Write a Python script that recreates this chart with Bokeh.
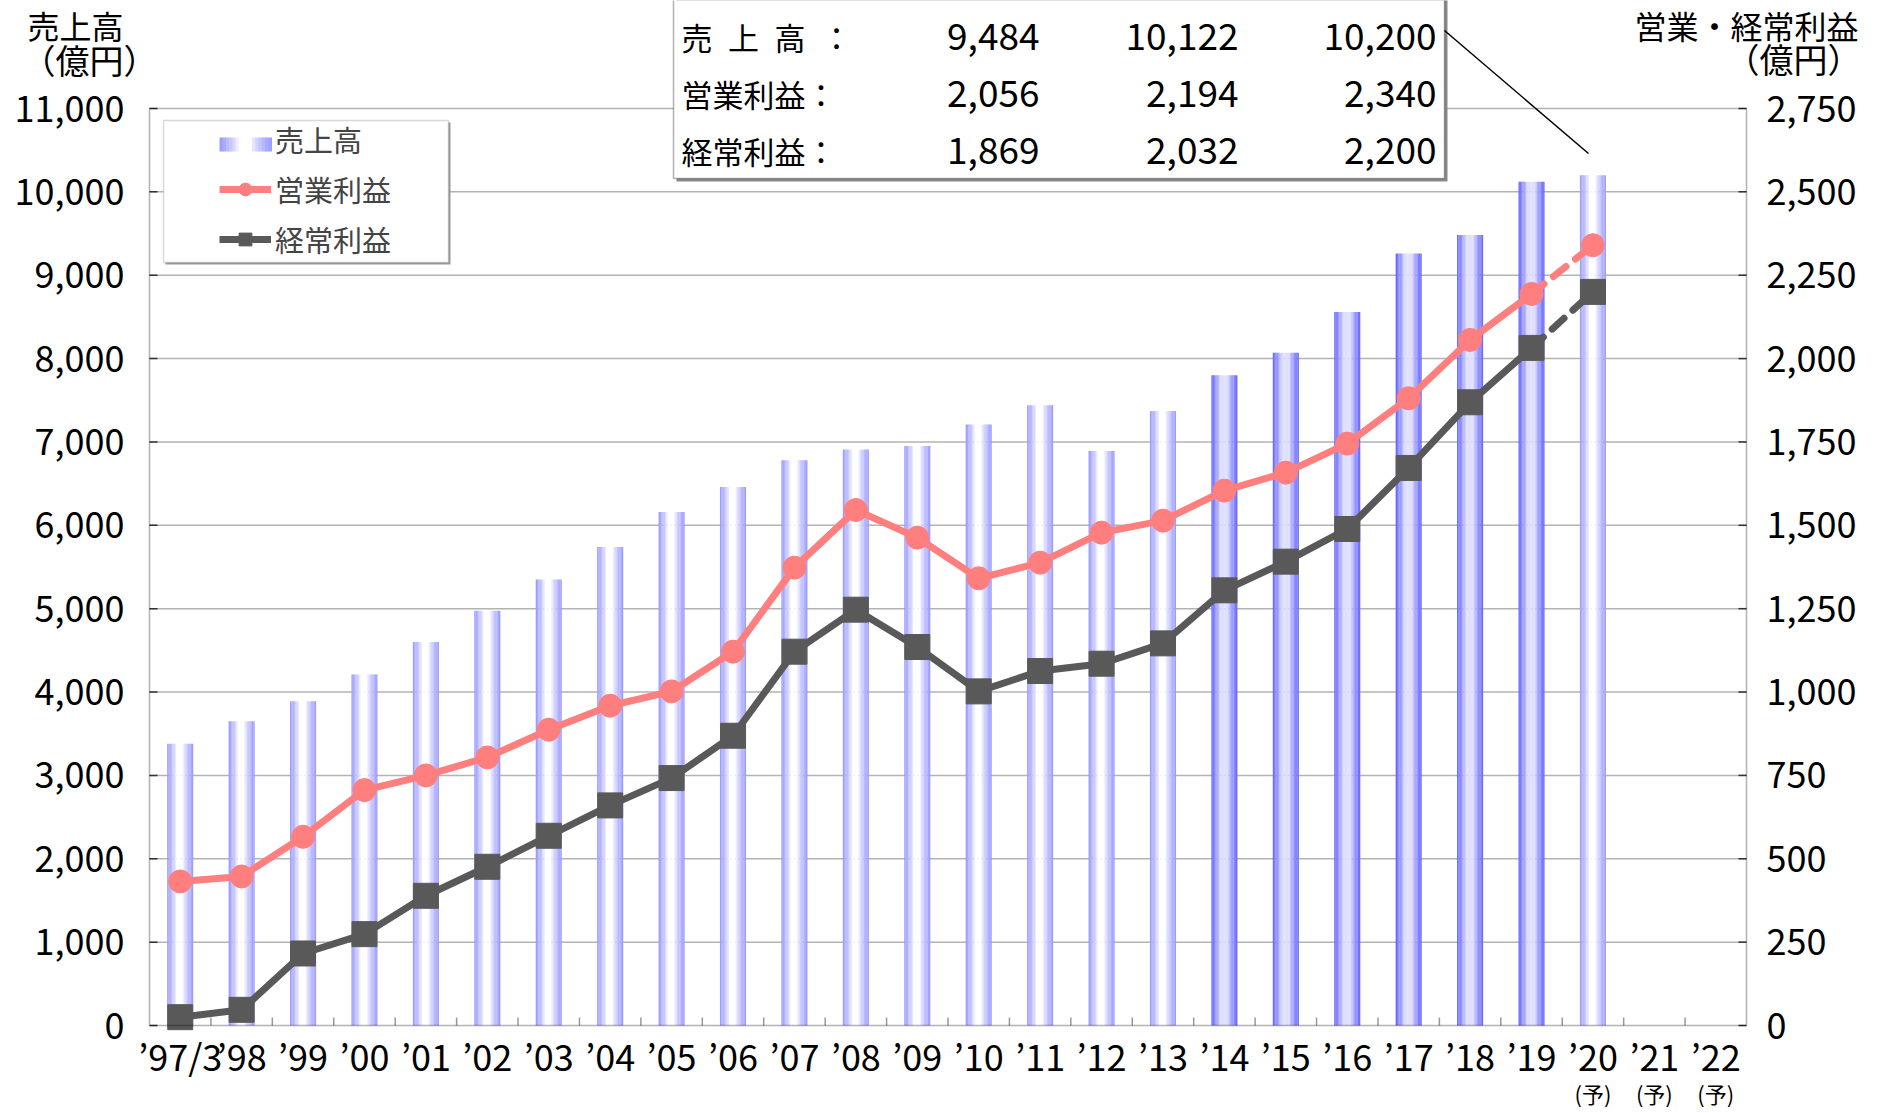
import numpy as np
from bokeh.plotting import figure
from bokeh.models import (ColumnDataSource, Range1d, Label, BoxAnnotation, Arrow, Legend, LegendItem)
from bokeh.core.properties import value
from bokeh.embed import file_html
from bokeh.resources import INLINE

# ---------------- data ----------------
categories = ["’97/3", "’98", "’99", "’00", "’01", "’02", "’03", "’04", "’05", "’06", "’07", "’08", "’09",
              "’10", "’11", "’12", "’13", "’14", "’15", "’16", "’17", "’18", "’19", "’20", "’21", "’22"]
forecast_labels = ["’20", "’21", "’22"]
dark_years = ["’14", "’15", "’16", "’17", "’18", "’19"]
sales = [3380, 3650, 3890, 4210, 4600, 4975, 5350, 5740, 6160, 6460, 6780, 6910, 6950,
         7210, 7440, 6890, 7370, 7800, 8070, 8560, 9260, 9484, 10122, 10200]
op_profit = [432, 447, 566, 706, 750, 804, 887, 959, 1002, 1121, 1373, 1546, 1463,
             1341, 1388, 1478, 1514, 1604, 1658, 1745, 1881, 2056, 2194, 2340]
ord_profit = [25, 47, 216, 274, 389, 476, 569, 660, 742, 869, 1121, 1247, 1135,
              1002, 1063, 1085, 1146, 1305, 1391, 1489, 1672, 1869, 2032, 2200]
sales_ticks = list(range(0, 11001, 1000))
profit_ticks = list(range(0, 2751, 250))
table_rows = ["売\u2002上\u2002高\u2002：", "営業利益：", "経常利益："]
series_names = ["売上高", "営業利益", "経常利益"]
left_title = ["売上高", "（億円）"]
right_title = ["営業・経常利益", "（億円）"]
forecast_mark = "(予)"

FONT = "Noto Sans CJK JP"
PINK = "#ff7f7f"
DARK = "#595959"

# ---------------- layout (canvas pixels) ----------------
CW, CH = 1868, 1109
FL, FR, FT, FB = 149, 1746, 108, 1025          # plot box inside the canvas
NCAT = len(categories)
YMAX = sales_ticks[-1]
PMAX = profit_ticks[-1]
xpp = (FR - FL) / NCAT
ypp = (FB - FT) / YMAX
x0, x1 = -0.5, NCAT - 0.5
x_range = Range1d(x0 - FL / xpp, x1 + (CW - FR) / xpp)
y_range = Range1d(-(CH - FB) / ypp, YMAX + FT / ypp)
k = YMAX / PMAX

p = figure(width=CW, height=CH, x_range=x_range, y_range=y_range, output_backend="svg",
           toolbar_location=None, x_axis_location=None, y_axis_location=None,
           min_border=0, min_border_left=0, min_border_right=0, min_border_top=0, min_border_bottom=0)
p.outline_line_color = None
p.xgrid.visible = False
p.ygrid.visible = False
p.background_fill_color = "white"
p.border_fill_color = "white"
p.extra_y_ranges = {"profit": Range1d(y_range.start / k, y_range.end / k)}

TICK = 8
# grid lines
grid_src = ColumnDataSource(dict(y=sales_ticks[1:-1]))
p.segment(x0=x0, x1=x1, y0="y", y1="y", source=grid_src, line_color="#b3b3b3", line_width=1.5)


def gradient(t, dark):
    edge = np.array([102, 102, 255]) if dark else np.array([153, 153, 255])
    center = np.array([222, 222, 255]) if dark else np.array([255, 255, 255])
    a, b = (0.34, 0.64) if dark else (0.37, 0.60)
    if t < a:
        f = (a - t) / a
    elif t > b:
        f = (t - b) / (1 - b)
    else:
        f = 0.0
    c = center + (edge - center) * f ** 0.7
    return "#%02x%02x%02x" % tuple(int(round(v)) for v in c)


# bars with horizontal gradient (drawn as narrow stripes)
N = 20
W = 0.423
xs, tops, cols = [], [], []
for i, s in enumerate(sales):
    dark = categories[i] in dark_years
    for kk in range(N):
        t = (kk + 0.5) / N
        xs.append(i - W / 2 + (kk + 0.5) * W / N)
        tops.append(s)
        cols.append(gradient(t, dark))
bar_src = ColumnDataSource(dict(x=xs, top=tops, color=cols))
bars = p.vbar(x="x", top="top", bottom=0, width=W / N * 1.1, source=bar_src,
              fill_color="color", line_color=None)
# invisible proxy so that the legend key can carry the gradient drawn below
bar_key = p.vbar(x=[], top=[], width=W, fill_alpha=0, line_alpha=0)

# lines
idx = list(range(len(op_profit)))
solid_src = ColumnDataSource(dict(x=idx[:-1], op=op_profit[:-1], od=ord_profit[:-1]))
dash_src = ColumnDataSource(dict(x=idx[-2:], op=op_profit[-2:], od=ord_profit[-2:]))
pts_src = ColumnDataSource(dict(x=idx, op=op_profit, od=ord_profit))

ord_line = p.line("x", "od", source=solid_src, y_range_name="profit", line_color=DARK, line_width=7)
p.line("x", "od", source=dash_src, y_range_name="profit", line_color=DARK, line_width=7,
       line_dash="16 12", line_cap="round")
ord_pts = p.scatter("x", "od", source=pts_src, y_range_name="profit", marker="square", size=25,
                    fill_color=DARK, line_color=DARK)
op_line = p.line("x", "op", source=solid_src, y_range_name="profit", line_color=PINK, line_width=7)
p.line("x", "op", source=dash_src, y_range_name="profit", line_color=PINK, line_width=7,
       line_dash="16 12", line_cap="round")
op_pts = p.scatter("x", "op", source=pts_src, y_range_name="profit", marker="circle", size=23,
                   fill_color=PINK, line_color=PINK)

# ---------------- axes (ticks + labels through the data scales) ----------------
ltick = ColumnDataSource(dict(y=sales_ticks, lbl=[f"{v:,}" for v in sales_ticks]))
p.segment(x0=x0, x1=x0 + TICK / xpp, y0="y", y1="y", source=ltick, line_color="#333333", line_width=1.5)
p.text(x=x0, y="y", text="lbl", source=ltick, x_offset=-25, text_align="right",
       text_baseline="middle", text_font=value(FONT), text_font_size=value("36px"), text_color="black")

rtick = ColumnDataSource(dict(y=profit_ticks, lbl=[f"{v:,}" for v in profit_ticks]))
p.segment(x0=x1 - TICK / xpp, x1=x1, y0="y", y1="y", source=rtick, y_range_name="profit",
          line_color="#333333", line_width=1.5)
p.text(x=x1, y="y", text="lbl", source=rtick, y_range_name="profit", x_offset=20, text_align="left",
       text_baseline="middle", text_font=value(FONT), text_font_size=value("36px"), text_color="black")

btick = ColumnDataSource(dict(x=[i + 0.5 for i in range(NCAT - 1)]))
p.segment(x0="x", x1="x", y0=0, y1=TICK / ypp, source=btick, line_color="#999999", line_width=1.5)
xlab = ColumnDataSource(dict(x=list(range(NCAT)), lbl=categories))
p.text(x="x", y=0, text="lbl", source=xlab, y_offset=29, text_align="center", text_baseline="middle",
       text_font=value(FONT), text_font_size=value("36px"), text_color="black")
flab = ColumnDataSource(dict(x=[categories.index(c) for c in forecast_labels],
                             lbl=[forecast_mark] * len(forecast_labels)))
p.text(x="x", y=0, text="lbl", source=flab, y_offset=67, text_align="center", text_baseline="middle",
       text_font=value(FONT), text_font_size=value("22px"), text_color="black")

# plot box
p.add_layout(BoxAnnotation(left=x0, right=x1, bottom=0, top=YMAX, fill_alpha=0,
                           line_color="black", line_width=1.5))


# texts placed in canvas pixels (y measured from the top)
def lab(x, y, text, size, align="center"):
    p.add_layout(Label(x=x, y=CH - y, x_units="screen", y_units="screen", text=text,
                       text_font=FONT, text_font_size=size, text_align=align,
                       text_baseline="middle", text_color="black"))


lab(75, 24, left_title[0], "32px")
lab(89, 59, left_title[1], "34px")
lab(1746, 24, right_title[0], "32px")
lab(1793, 58, right_title[1], "34px")


def sbox(l, r, t, b, **kw):
    p.add_layout(BoxAnnotation(left=l, right=r, top=CH - t, bottom=CH - b,
                               left_units="screen", right_units="screen", top_units="screen",
                               bottom_units="screen", **kw))


# ---------------- legend ----------------
sbox(165, 450, 122, 264, fill_color="#9a9a9a", fill_alpha=1, line_color=None)
sbox(163, 448, 120, 262, fill_color="white", fill_alpha=1, line_color="#808080", line_width=1.5)
# gradient key for the sales entry
NK = 16
for kk in range(NK):
    t = (kk + 0.5) / NK
    sbox(219 + kk * 52 / NK, 219 + (kk + 1) * 52 / NK + 0.5, 137, 151,
         fill_color=gradient(t, False), fill_alpha=1, line_color=None)
legend = Legend(items=[LegendItem(label=series_names[0], renderers=[bar_key]),
                       LegendItem(label=series_names[1], renderers=[op_line, op_pts]),
                       LegendItem(label=series_names[2], renderers=[ord_line, ord_pts])],
                location=(219, CH - 260), border_line_color=None, background_fill_alpha=0,
                padding=0, margin=0, spacing=8, glyph_width=52, glyph_height=32,
                label_height=40, label_standoff=4, label_text_font=FONT,
                label_text_font_size="29px")
p.add_layout(legend)

# ---------------- table ----------------
sbox(676, 1447, -20, 181, fill_color="#8a8a8a", fill_alpha=1, line_color=None)
sbox(673, 1444, -20, 178, fill_color="white", fill_alpha=1, line_color="black", line_width=1.5)
row_vals = [sales[-3:], op_profit[-3:], ord_profit[-3:]]
row_y = [36, 93, 150]
col_x = [1039, 1238, 1436]
for r, name in enumerate(table_rows):
    lab(681, row_y[r], name, "31px", "left")
    for c, v in enumerate(row_vals[r]):
        lab(col_x[c], row_y[r], f"{v:,}", "37px", "right")

p.add_layout(Arrow(end=None, x_start=1444, y_start=CH - 30, x_end=1588, y_end=CH - 153,
                   start_units="screen", end_units="screen", line_color="black", line_width=1.5))

open("out.html", "w").write(file_html(p, INLINE))
